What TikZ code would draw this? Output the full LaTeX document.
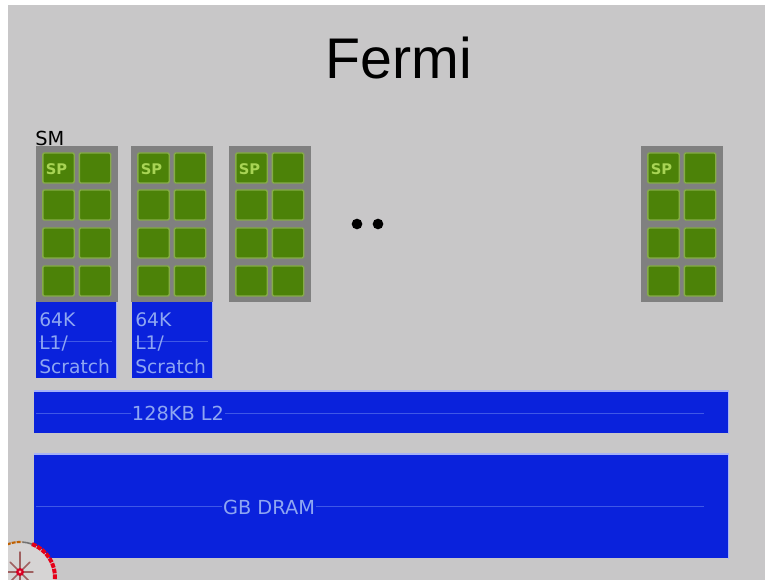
\documentclass[tikz,border=0pt]{standalone}
\usepackage{fontspec}
\setmainfont{DejaVu Sans}
\newfontfamily\titlefont{Liberation Sans}
\definecolor{slidegray}{HTML}{C8C7C8}
\definecolor{smgray}{HTML}{808080}
\definecolor{spgreen}{HTML}{4C8208}
\definecolor{spline}{HTML}{86AC48}
\definecolor{sptext}{HTML}{A8D455}
\definecolor{memblue}{HTML}{0A22DC}
\definecolor{memline}{HTML}{3F58E6}
\definecolor{memedge}{HTML}{A6B2F8}
\definecolor{memtext}{HTML}{8EA6F2}
\definecolor{spotfill}{HTML}{D6D4D4}
\tikzset{
    smbox/.style={fill=smgray, minimum width=61pt, minimum height=117pt, inner sep=0pt},
    spcell/.style={fill=spgreen, draw=spline, line width=1pt, rounded corners=1pt,
        minimum width=23.5pt, minimum height=22.5pt, inner sep=0pt},
    splabelstyle/.style={text=sptext, font=\bfseries\fontsize{11}{13}\selectfont},
    membox/.style={fill=memblue, inner sep=0pt, text=memtext},
    memrule/.style={memline, line width=0.5pt},
    memhalo/.style={memedge, line width=0.9pt},
    dotmark/.style={circle, fill=black, minimum size=8pt, inner sep=0pt}
}
\begin{document}
\begin{tikzpicture}[x=0.75pt, y=-0.75pt]
    \useasboundingbox (0, 0) rectangle (765, 580);
    \fill[white] (0, 0) rectangle (765, 580);
    \fill[slidegray] (8, 5) rectangle (765, 580);
    % Title
    \node[font=\titlefont\fontsize{43}{50}\selectfont] (title) at (399, 58) {Fermi};
    % Shader modules with their SP cells
    \foreach \cx/\cn in {36/a, 131/b, 229/c, 641/d} {
        \node[smbox, anchor=west] (sm\cn) at (\cx, 224) {};
        \foreach \ry/\rn in {168/1, 205/2, 243/3, 281/4} {
            \node[spcell] (sp\cn\rn l) at (\cx+22.5, \ry) {};
            \node[spcell] (sp\cn\rn r) at (\cx+59, \ry) {};
        }
        \node[splabelstyle] (splabel\cn) at (\cx+20.5, 169) {SP};
    }
    \node[font=\fontsize{14.5}{16}\selectfont, anchor=south west, inner sep=0pt] (smlabel) at (35, 146.5) {SM};
    % Dots between the modules
    \node[dotmark] (dotl) at (357, 224) {};
    \node[dotmark] (dotr) at (378, 224) {};
    % L1 memories
    \foreach \cx/\cn in {36/a, 132/b} {
        \node[membox, anchor=north west, minimum width=60pt, minimum height=57pt] (lone\cn) at (\cx, 302) {};
        \draw[memhalo] (lone\cn.north east) -- (lone\cn.south east);
        \draw[memrule] (\cx+3, 341) -- (\cx+76, 341);
        \node[anchor=west, inner sep=0pt, text=memtext, align=left,
            font=\fontsize{14}{17.6}\selectfont] (lonelabel\cn) at (\cx+3, 343) {64K\\L1/\\Scratch};
    }
    % L2 and DRAM
    \node[membox, anchor=north west, minimum width=520.5pt, minimum height=31.5pt] (ltwo) at (34, 391) {};
    \draw[memhalo] (ltwo.north west) -- (ltwo.north east) -- (ltwo.south east);
    \draw[memrule] (36, 413) -- (704, 413);
    \node[fill=memblue, inner sep=1pt, text=memtext, font=\fontsize{14.5}{17}\selectfont] (ltwolabel) at (178, 413) {128KB L2};
    \node[membox, anchor=north west, minimum width=520.5pt, minimum height=78pt] (dram) at (34, 454) {};
    \draw[memhalo] (dram.north west) -- (dram.north east) -- (dram.south east);
    \draw[memrule] (36, 506) -- (704, 506);
    \node[fill=memblue, inner sep=1pt, text=memtext, font=\fontsize{14.5}{17}\selectfont] (dramlabel) at (269, 507) {GB DRAM};
    % Pointer mark in the corner
    \begin{scope}
        \clip (8, 5) rectangle (765, 580);
        \fill[spotfill] (20, 577) circle (35);
        \draw[orange!75!black, line width=1.6pt, dash pattern=on 3pt off 0.8pt] (20, 577) ++(-112:35) arc (-112:-86:35);
        \draw[black!55, line width=1.2pt] (20, 577) ++(-86:35) arc (-86:-70:35);
        \draw[red!90!blue, line width=3pt, dash pattern=on 3.5pt off 0.8pt] (20, 577) ++(-70:35) arc (-70:5:35);
        \foreach \ang/\len in {0/13, 45/13, 90/13, 135/13, 180/13, 225/14, 270/20, 315/14} {
            \draw[gray!75!red, line width=1.1pt, line cap=round] (20, 572) -- ++(\ang:\len);
        }
        \fill[red!85!blue] (20, 572) circle (4);
        \fill[white!70!red] (20, 572) circle (1.5);
    \end{scope}
\end{tikzpicture}
\end{document}
